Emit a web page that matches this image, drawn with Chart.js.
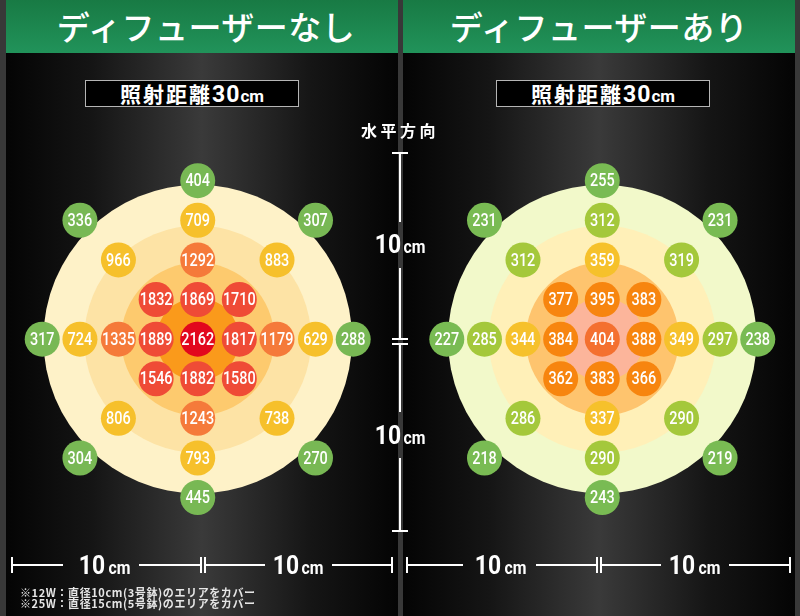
<!DOCTYPE html>
<html><head><meta charset="utf-8">
<script src="https://cdn.jsdelivr.net/npm/chart.js@4"></script>
<style>
html,body{margin:0;padding:0;}
body{width:800px;height:616px;background:#383838;position:relative;overflow:hidden;font-family:"Noto Sans CJK JP",sans-serif;}
.panel{position:absolute;top:0;height:616px;width:392px;background:linear-gradient(to right,#040404 0%,#151515 22%,#3a3a3a 50%,#151515 78%,#040404 100%);}
#pl{left:6px}
#pr{left:403px}
.head{position:absolute;left:0;top:0;width:100%;height:53px;background:linear-gradient(#187a44,#21935a);color:#fff;font-size:33px;line-height:53px;text-align:center;font-weight:500;letter-spacing:0.5px;}
.box{position:absolute;top:80px;height:25px;width:212px;border:1.5px solid #b5b5b5;background:#000;color:#fff;text-align:center;line-height:25px;font-weight:700;}
.box .jp{font-size:21px;letter-spacing:2px;}
.box .n{font-family:Roboto,sans-serif;font-size:23px;font-weight:700;letter-spacing:1px;}
.box .c{font-family:Roboto,sans-serif;font-size:17px;font-weight:700;}
canvas{position:absolute;top:0;}
.ln{position:absolute;background:#fff;}
.t{position:absolute;width:100px;text-align:center;color:#fff;white-space:nowrap;}
.t .n{font-family:Roboto,sans-serif;font-weight:700;font-size:26px;display:inline-block;transform:scaleX(0.88);}
.t .c{font-family:Roboto,sans-serif;font-weight:700;font-size:18px;display:inline-block;transform:scaleX(0.88);}
#hz{position:absolute;left:350px;width:100px;top:119px;text-align:center;color:#fff;font-weight:700;font-size:16px;letter-spacing:3.5px;line-height:22px;}
#note{position:absolute;left:20px;top:587px;color:#e6e6e6;font-size:11px;line-height:10.5px;letter-spacing:0.6px;font-weight:700;}
</style></head>
<body>
<div class="panel" id="pl"><div class="head" style="padding-left:8px;box-sizing:border-box">ディフューザーなし</div></div>
<div class="panel" id="pr"><div class="head">ディフューザーあり</div></div>
<div class="box" style="left:85px"><span class="jp">照射距離</span><span class="n">30</span><span class="c">cm</span></div>
<div class="box" style="left:496px"><span class="jp">照射距離</span><span class="n">30</span><span class="c">cm</span></div>
<canvas id="cl" width="400" height="616" style="left:0"></canvas>
<canvas id="cr" width="400" height="616" style="left:400px"></canvas>
<div id="hz">水平方向</div>
<div id="note">※12W：直径10cm(3号鉢)のエリアをカバー<br>※25W：直径15cm(5号鉢)のエリアをカバー</div>
<script>
// measurement positions (horizontal / vertical, in grid steps from the lamp centre)
const gridX = [0, -3.03,0,3.03, -2.04,0,2.04, -1.07,0,1.07, -4,-3.03,-2.04,-1.07,0,1.07,2.04,3.03,4, -1.07,0,1.07, -2.04,0,2.04, -3.03,0,3.03, 0];
const gridY = [4, 3,3,3, 2,2,2, 1,1,1, 0,0,0,0,0,0,0,0,0, -1,-1,-1, -2,-2,-2, -3,-3,-3, -4];
// values without diffuser
const valuesNo = [404, 336,709,307, 966,1292,883, 1832,1869,1710, 317,724,1335,1889,2162,1817,1179,629,288, 1546,1882,1580, 806,1243,738, 304,793,270, 445];
// values with diffuser
const valuesYes = [255, 231,312,231, 312,359,319, 377,395,383, 227,285,344,384,404,388,349,297,238, 362,383,366, 286,337,290, 218,290,219, 243];
const thresholdsNo = [2000,1400,1100,600];
const thresholdsYes = [400,360,330,280];
const paletteNo = ['#E2071D','#EF4B36','#F57A3A','#F6C02B','#78B854'];
const paletteYes = ['#F4702F','#F7850F','#F6C12B','#A4C83B','#79BB53'];
const ringRadii = [3.97, 2.92, 1.97, 1.07];
const ringColorsNo = ['#FEF2C8','#FDE3A5','#FDCA6E','#FA9A1B'];
const ringColorsYes = ['#F2F9CA','#FFF0B8','#FEC46E','#FCB59B'];

function levelColor(v, th, pal){ for(let i=0;i<th.length;i++){ if(v>=th[i]) return pal[i]; } return pal[th.length]; }

function makeChart(id, values, th, pal, ringCols, xmin, xmax){
  const cols = values.map(v=>levelColor(v,th,pal));
  const rings = {id:'rings', beforeDatasetsDraw(chart){
    const xs=chart.scales.x, ys=chart.scales.y, ctx=chart.ctx;
    const cx=xs.getPixelForValue(0), cy=ys.getPixelForValue(0);
    ctx.save();
    ringRadii.forEach((r,i)=>{
      const rp = xs.getPixelForValue(r)-cx;
      ctx.beginPath(); ctx.arc(cx,cy,rp,0,Math.PI*2); ctx.fillStyle=ringCols[i]; ctx.fill();
    });
    ctx.restore();
  }};
  const labels = {id:'labels', afterDatasetsDraw(chart){
    const ctx=chart.ctx; const meta=chart.getDatasetMeta(0);
    ctx.save();
    ctx.fillStyle='#fff'; ctx.font='500 19px Roboto, sans-serif'; ctx.textAlign='center'; ctx.textBaseline='middle';
    meta.data.forEach((pt,i)=>{
      ctx.save(); ctx.translate(pt.x, pt.y+1); ctx.scale(0.76,1); ctx.fillText(String(values[i]),0,0); ctx.restore();
    });
    ctx.restore();
  }};
  return new Chart(document.getElementById(id), {
    type:'scatter',
    data:{datasets:[{data: gridX.map((x,i)=>({x:x, y:gridY[i]})), pointRadius:17.5, pointHoverRadius:17.5, pointBorderWidth:0, borderWidth:0, backgroundColor:cols, pointBackgroundColor:cols, clip:false}]},
    options:{responsive:false, animation:false, events:[], devicePixelRatio:1, layout:{padding:0},
      scales:{x:{type:'linear',min:xmin,max:xmax,display:false}, y:{type:'linear',min:-275/42,max:341/42,display:false}},
      plugins:{legend:{display:false}, tooltip:{enabled:false}}},
    plugins:[rings, labels]
  });
}
makeChart('cl', valuesNo, thresholdsNo, paletteNo, ringColorsNo, -197.5/42.6, 202.5/42.6);
makeChart('cr', valuesYes, thresholdsYes, paletteYes, ringColorsYes, -202.5/42.6, 197.5/42.6);

// rulers
function ln(x,y,w,h){ const d=document.createElement('div'); d.className='ln'; d.style.cssText=`left:${x}px;top:${y}px;width:${w}px;height:${h}px`; document.body.appendChild(d); }
function lbl(cx,cy){ const d=document.createElement('div'); d.className='t'; d.style.cssText=`left:${cx-50}px;top:${cy-15}px;line-height:30px;height:30px`; d.innerHTML='<span class="n">10</span><span class="c">cm</span>'; document.body.appendChild(d); }
// vertical
ln(392,152,16,2); ln(399,152,2,70); lbl(400,244); ln(399,268,2,71); ln(392,338,16,2); ln(392,343,16,2); ln(399,345,2,67); lbl(400,435); ln(399,458,2,73); ln(392,530,16,2);
// horizontal left
ln(11,557,2,16); ln(11,564,52,2); lbl(104.5,565); ln(139,564,62,2); ln(200,557,2,16); ln(204,557,2,16); ln(204,564,61,2); lbl(298,565); ln(332,564,60,2); ln(391,557,2,16);
// horizontal right
ln(406,557,2,16); ln(406,564,57,2); lbl(500.5,565); ln(536,564,61,2); ln(596,557,2,16); ln(600,557,2,16); ln(600,564,61,2); lbl(694.5,565); ln(729,564,61,2); ln(789,557,2,16);
</script>
</body></html>
